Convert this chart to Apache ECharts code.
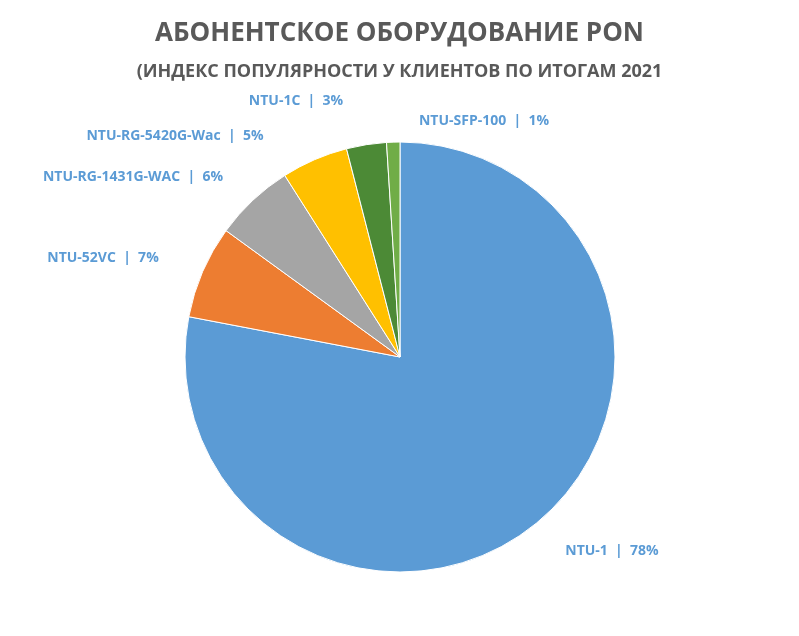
<!DOCTYPE html>
<html>
<head>
<meta charset="utf-8">
<script src="https://cdn.jsdelivr.net/npm/echarts@6/dist/echarts.min.js"></script>
<style>html,body{margin:0;padding:0;background:#fff}#chart{width:799px;height:636px}</style>
</head>
<body>
<div id="chart"></div>
<script>
const names = ['NTU-1', 'NTU-52VC', 'NTU-RG-1431G-WAC', 'NTU-RG-5420G-Wac', 'NTU-1C', 'NTU-SFP-100'];
const values = [78, 7, 6, 5, 3, 1];
const colors = ['#5B9BD5', '#ED7D31', '#A5A5A5', '#FFC000', '#4C8A36', '#70AD47'];

// label anchor points (centre of text)
const labelPos = [[612, 551], [103, 258], [133, 177], [175, 136], [296, 101], [484, 121]];

const chart = echarts.init(document.getElementById('chart'));
chart.setOption({
    title: [
        {
            text: 'АБОНЕНТСКОЕ ОБОРУДОВАНИЕ PON',
            left: 'center', top: 16,
            textStyle: {color: '#595959', fontSize: 26, fontWeight: 'bold', fontFamily: 'Open Sans'}
        },
        {
            text: '(ИНДЕКС ПОПУЛЯРНОСТИ У КЛИЕНТОВ ПО ИТОГАМ 2021',
            left: 'center', top: 58,
            textStyle: {color: '#595959', fontSize: 18, fontWeight: 'bold', fontFamily: 'Open Sans'}
        }
    ],
    series: [{
        type: 'pie',
        center: [400, 357],
        radius: 215,
        startAngle: 90,
        clockwise: true,
        animation: false,
        itemStyle: {borderColor: '#fff', borderWidth: 1},
        label: {
            show: true,
            position: 'outside',
            formatter: p => p.name + '  |  ' + p.value + '%',
            color: '#5B9BD5',
            fontSize: 14,
            fontWeight: 'bold',
            fontFamily: 'Open Sans'
        },
        labelLine: {show: false},
        labelLayout: p => ({
            x: labelPos[p.dataIndex][0],
            y: labelPos[p.dataIndex][1],
            align: 'center',
            verticalAlign: 'middle'
        }),
        data: names.map((n, i) => ({name: n, value: values[i], itemStyle: {color: colors[i]}}))
    }]
});
</script>
</body>
</html>
